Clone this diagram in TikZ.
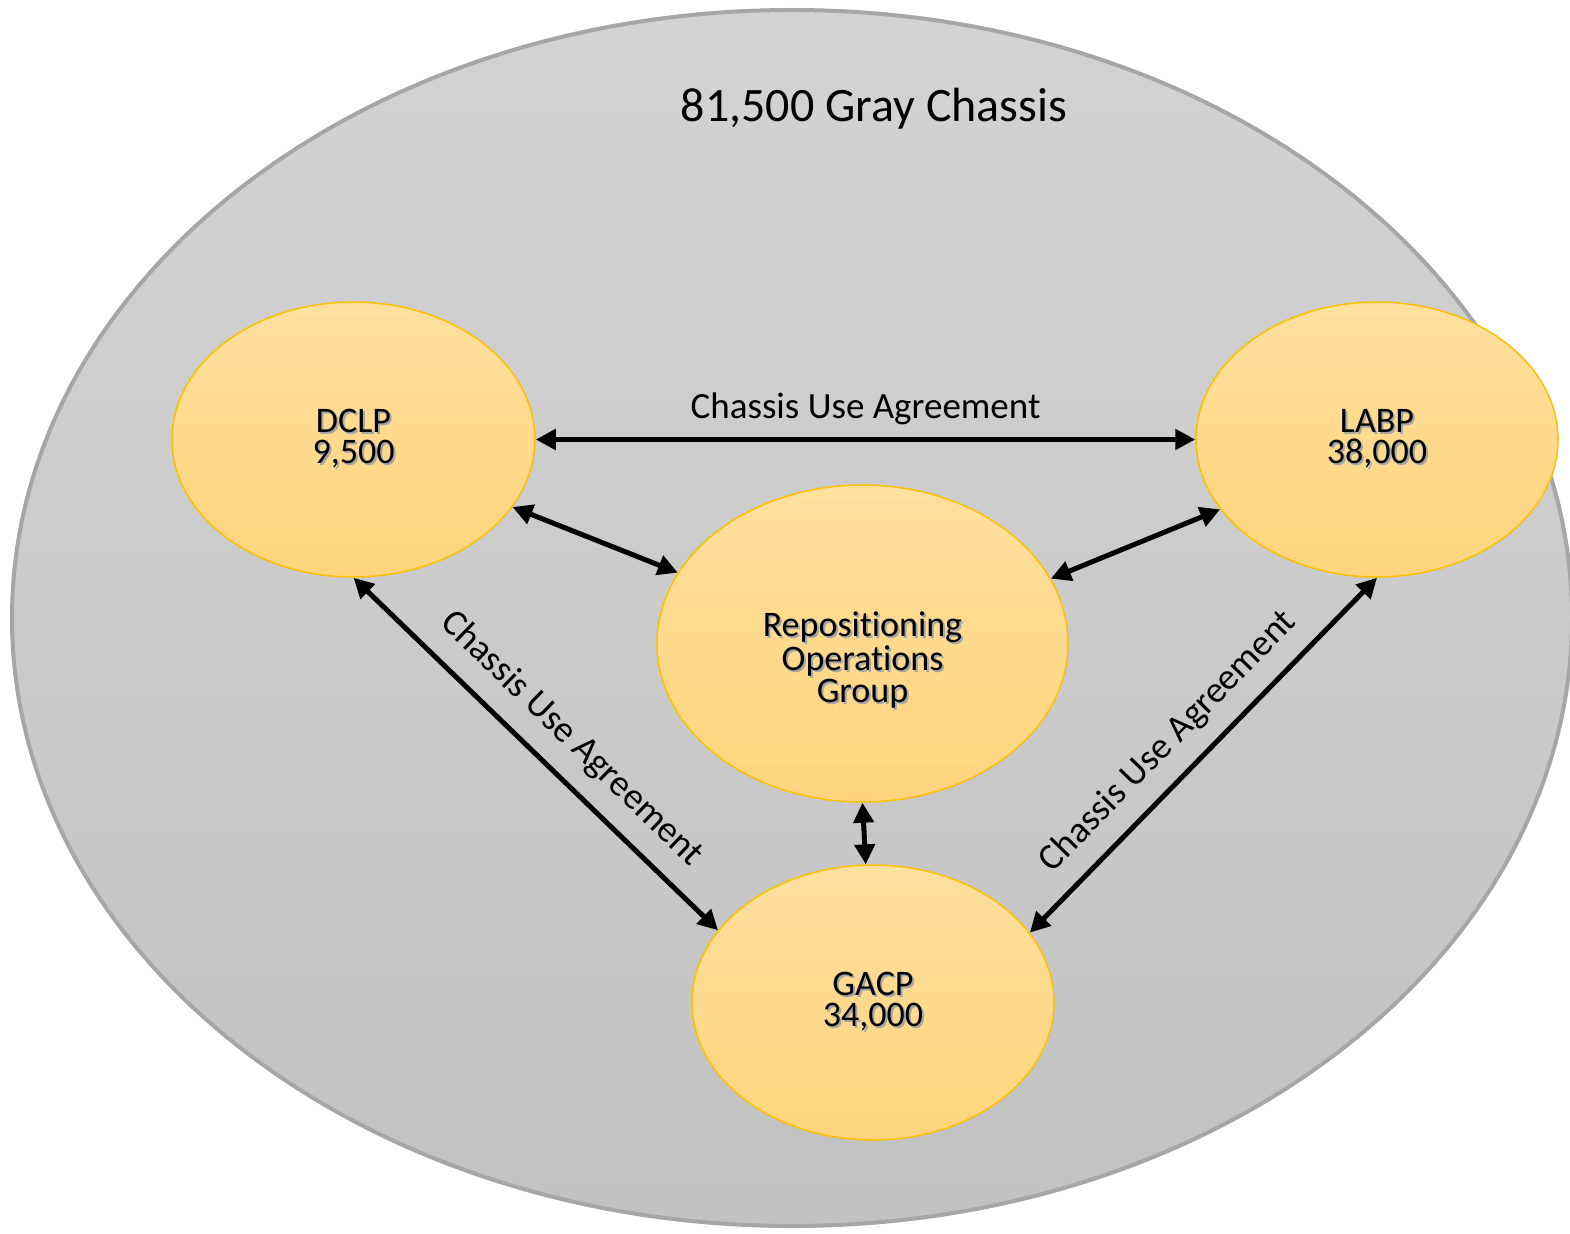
\documentclass[tikz,border=0pt]{standalone}
\usepackage{fontspec}
\setmainfont[Ligatures=NoCommon]{Carlito}
\usetikzlibrary{shapes.geometric,arrows.meta}
\definecolor{outerline}{HTML}{A6A6A6}
\definecolor{outertop}{HTML}{D3D3D3}
\definecolor{outerbot}{HTML}{C2C2C2}
\definecolor{nodeline}{HTML}{FFC000}
\definecolor{nodetop}{HTML}{FFE09D}
\definecolor{nodebot}{HTML}{FFD47D}
\newcommand\shtxt[1]{\makebox[0pt][l]{\hspace{2pt}\raisebox{-2pt}{\textcolor{black!35}{#1}}}#1}
\tikzset{
  party/.style={ellipse, draw=nodeline, line width=1.5pt, top color=nodetop, bottom color=nodebot,
    inner sep=0pt, align=center, font=\fontsize{36}{31}\selectfont},
  link/.style={line width=5pt, {Triangle[length=20pt,width=20pt]}-{Triangle[length=20pt,width=20pt]}},
  edgelabel/.style={font=\fontsize{37}{37}\selectfont, inner sep=0pt, sloped, anchor=base}
}
\begin{document}
\begin{tikzpicture}[x=1pt,y=-1pt]
\useasboundingbox (0,0) rectangle (1570,1233);
\fill[white] (0,0) rectangle (1570,1233);
\clip (0,0) rectangle (1570,1233);
\node[ellipse, minimum width=1560pt, minimum height=1216pt, draw=outerline, line width=4pt,
  top color=outertop, bottom color=outerbot, inner sep=0pt] (chassis) at (792,618) {};
\node[font=\fontsize{48}{48}\selectfont, anchor=base] (title) at (874,122) {81,500 Gray Chassis};

\node[party, minimum width=363pt, minimum height=275pt] (dclp) at (353.5,439.5) {\shtxt{DCLP}\\\shtxt{9,500}};
\node[party, minimum width=362pt, minimum height=275pt] (labp) at (1377,439.5) {\shtxt{LABP}\\\shtxt{38,000}};
\node[party, minimum width=411pt, minimum height=317pt] (rog) at (862.5,643.5) {\rule{0pt}{60pt}\shtxt{Repositioning}\\\shtxt{Operations}\\\shtxt{Group}};
\node[party, minimum width=362pt, minimum height=275pt] (gacp) at (873,1002.5) {\shtxt{GACP}\\\shtxt{34,000}};

\draw[link] (dclp.east) -- node[edgelabel, yshift=21pt] {Chassis Use Agreement} (labp.west);
\draw[link] (dclp.-23) -- (rog.159);
\draw[link] (labp.-156) -- (rog.19);
\draw[link] (rog.south) -- (gacp.93);
\draw[link] (dclp.south) -- node[edgelabel, pos=0.53, yshift=26pt] {Chassis Use Agreement} (gacp.155.7);
\draw[link] (gacp.24) -- node[edgelabel, pos=0.47, yshift=25pt] {Chassis Use Agreement} (labp.south);
\end{tikzpicture}
\end{document}
